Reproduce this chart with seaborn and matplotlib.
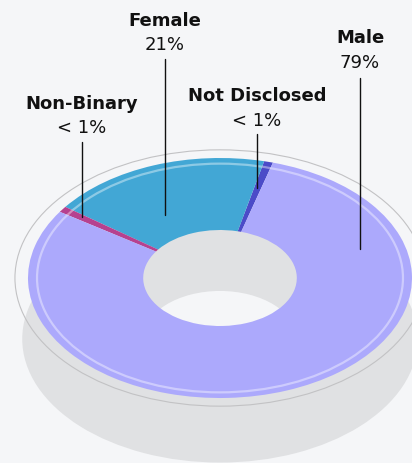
import matplotlib
matplotlib.use("Agg")
import matplotlib.pyplot as plt
from matplotlib.patches import Circle
import seaborn as sns

# ---- data ----
categories = ["Not Disclosed", "Female", "Non-Binary", "Male"]
shares = [0.75, 18.6, 0.8, 79.85]          # angular shares
pct_labels = ["< 1%", "21%", "< 1%", "79%"]
colors = ["#4b4bc8", "#42a7d5", "#b6418f", "#aca9fc"]

BG = "#f5f6f8"
SHADOW = "#e0e1e3"

sns.set_theme(style="white")
plt.rcParams["font.family"] = ["DejaVu Sans"]

W, H = 412, 464
fig = plt.figure(figsize=(W / 100, H / 100), dpi=100)
fig.patch.set_facecolor(BG)
ax = fig.add_axes([0, 0, 1, 1])
ax.set_facecolor(BG)

# pixel helpers (centre of the ring at px (220, 279); 192 px per x unit, 120 px per y unit)
CX, CY, SX, SY = 220, 279, 192, 120
def px(x, y):
    return (x - CX) / SX, (CY - y) / SY

# shadow ring
ax.pie([1], colors=[SHADOW], radius=1.03, center=(0, -0.508), startangle=90,
       wedgeprops=dict(width=0.63, linewidth=0), frame=False)

# main donut
wedges, _ = ax.pie(shares, colors=colors, radius=1.0, startangle=74, counterclock=True,
                   wedgeprops=dict(width=0.6, linewidth=0), frame=False)

# decorative rings
ax.add_patch(Circle((0, 0), 1.068, fill=False, ec="#c2c2c4", lw=0.8, zorder=3))
ax.add_patch(Circle((0, 0), 0.953, fill=False, ec="white", alpha=0.4, lw=1.6, zorder=3))

ax.set_aspect("auto")
ax.set_xlim(-CX / SX, (W - CX) / SX)
ax.set_ylim(-(H - CY) / SY, CY / SY)
ax.axis("off")

# labels: (x centre px, line bottom px, line top px, name baseline px, value baseline px)
label_layout = {
    "Female": (165, 216, 60, 26, 50),
    "Male": (360, 250, 79, 43, 68),
    "Not Disclosed": (257, 189, 135, 101, 126),
    "Non-Binary": (82, 218, 143, 109, 133),
}
for cat, pct in zip(categories, pct_labels):
    x, yb, yt, yn, yv = label_layout[cat]
    x0, y0 = px(x, yb)
    x1, y1 = px(x, yt)
    ax.plot([x0, x1], [y0, y1], color="#111111", lw=1.0, zorder=5)
    tx, ty = px(x, yn)
    ax.text(tx, ty, cat, ha="center", va="baseline", fontsize=13, fontweight="bold", color="#111111")
    tx, ty = px(x, yv)
    ax.text(tx, ty, pct, ha="center", va="baseline", fontsize=13, color="#111111")

fig.savefig("out.png", dpi=100, facecolor=BG)
